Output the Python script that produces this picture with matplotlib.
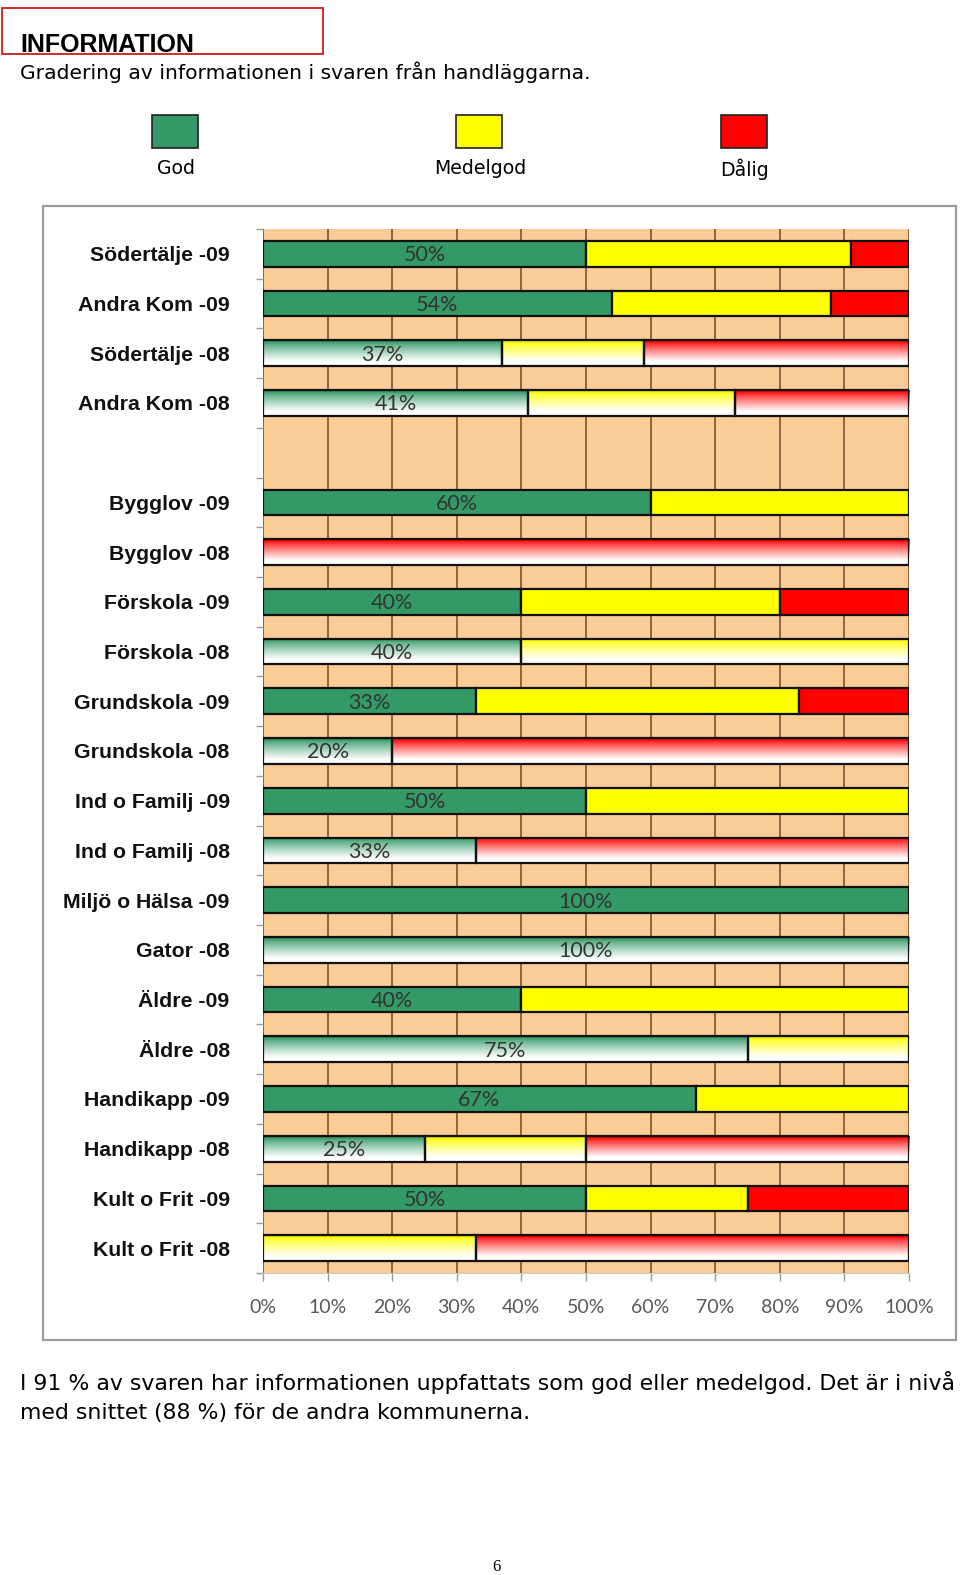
import matplotlib
matplotlib.use("Agg")
import matplotlib.pyplot as plt
from matplotlib.patches import Rectangle
import numpy as np

# data (percent)
categories = ["Södertälje -09", "Andra Kom -09", "Södertälje -08", "Andra Kom -08", "",
              "Bygglov -09", "Bygglov -08", "Förskola -09", "Förskola -08",
              "Grundskola -09", "Grundskola -08", "Ind o Familj -09", "Ind o Familj -08",
              "Miljö o Hälsa -09", "Gator -08", "Äldre -09", "Äldre -08",
              "Handikapp -09", "Handikapp -08", "Kult o Frit -09", "Kult o Frit -08"]
god = [50, 54, 37, 41, 0, 60, 0, 40, 40, 33, 20, 50, 33, 100, 100, 40, 75, 67, 25, 50, 0]
medelgod = [41, 34, 22, 32, 0, 40, 0, 40, 60, 50, 0, 50, 0, 0, 0, 60, 25, 33, 25, 25, 33]
dalig = [9, 12, 41, 27, 0, 0, 100, 20, 0, 17, 80, 0, 67, 0, 0, 0, 0, 0, 50, 25, 67]
series_names = ["God", "Medelgod", "Dålig"]
series_colors = ["#339966", "#FFFF00", "#FF0000"]
xticks = [0, 10, 20, 30, 40, 50, 60, 70, 80, 90, 100]

W, H = 960, 1575
fig = plt.figure(figsize=(W / 100, H / 100), dpi=100)
fig.patch.set_facecolor("white")


def fx(px):
    return px / W


def fy(py):
    return 1 - py / H


# header
fig.patches.append(Rectangle((fx(2), fy(54)), fx(321), 46 / H, transform=fig.transFigure,
                             fill=False, edgecolor="#d22b2b", lw=1.4))
fig.text(fx(20), fy(52), "INFORMATION", fontsize=18, fontweight="bold",
         family="Liberation Sans", va="baseline", ha="left")
fig.text(fx(20), fy(79), "Gradering av informationen i svaren från handläggarna.",
         fontsize=14.6, family="DejaVu Sans", va="baseline", ha="left")

# legend boxes
leg_x = [152, 456, 721]
for name, col, lx in zip(series_names, series_colors, leg_x):
    fig.patches.append(Rectangle((fx(lx), fy(148)), fx(46), 33 / H, transform=fig.transFigure,
                                 facecolor=col, edgecolor="#222222", lw=1.2))
    fig.text(fx(lx + 24), fy(169), name, fontsize=13.6, family="DejaVu Sans",
             ha="center", va="center")

# chart frame
fig.patches.append(Rectangle((fx(43), fy(1340)), fx(913), 1134 / H, transform=fig.transFigure,
                             fill=False, edgecolor="#9c9c9c", lw=1.6))

ax = fig.add_axes([fx(263), fy(1273), fx(909 - 263), (1273 - 229) / H])
ax.set_facecolor("#FBCB98")
n = len(categories)
y = np.arange(n)
bh = 0.52


def gradient(color):
    rgb = np.array(matplotlib.colors.to_rgb(color))
    t = np.linspace(0, 1, 64)
    f = np.clip((t - 0.04) / 0.78, 0, 1) ** 0.85
    top = rgb * 0.82
    base = np.where(t[:, None] < 0.12, top + (rgb - top) * (t[:, None] / 0.12), rgb)
    img = base * (1 - f[:, None]) + f[:, None]
    return img[:, None, :]


for i, cat in enumerate(categories):
    vals = [god[i], medelgod[i], dalig[i]]
    left = 0
    faded = cat.endswith("-08")
    for v, col in zip(vals, series_colors):
        if v <= 0:
            continue
        if faded:
            ax.imshow(gradient(col), extent=(left, left + v, i + bh / 2, i - bh / 2),
                      origin="upper", aspect="auto", interpolation="bilinear", zorder=2)
            ax.barh(i, v, left=left, height=bh, fill=False, edgecolor="#111111",
                    lw=1.6, zorder=3)
        else:
            ax.barh(i, v, left=left, height=bh, color=col, edgecolor="#111111",
                    lw=1.6, zorder=3)
        left += v
    if god[i] > 0:
        ax.text(god[i] / 2, i + 0.03, f"{god[i]}%", ha="center", va="center",
                fontsize=15.5, family="Lato", color="#333333", zorder=4)

ax.set_xlim(0, 100)
ax.set_ylim(n - 0.5, -0.5)
ax.set_xticks(xticks)
ax.set_xticklabels([f"{t}%" for t in xticks], family="Lato", fontsize=14, color="#595959")
ax.set_yticks(y)
ax.set_yticklabels(categories, family="Liberation Sans", fontweight="bold", fontsize=15.3,
                   color="#111111")
ax.set_yticks(np.arange(-0.5, n, 1), minor=True)
ax.tick_params(axis="y", which="major", length=0, pad=24)
ax.tick_params(axis="y", which="minor", length=5, color="#9a9a9a", width=1)
ax.tick_params(axis="x", length=6, color="#9a9a9a", width=1, pad=13)
ax.xaxis.grid(True, color="#7a5530", lw=1.2, zorder=1)
ax.set_axisbelow(True)
for s in ["top", "right", "left"]:
    ax.spines[s].set_visible(False)
ax.spines["bottom"].set_color("#c8c8c8")

# footer text
fig.text(fx(20), fy(1390), "I 91 % av svaren har informationen uppfattats som god eller medelgod. Det är i nivå",
         fontsize=15.85, family="DejaVu Sans", va="baseline", ha="left")
fig.text(fx(20), fy(1419), "med snittet (88 %) för de andra kommunerna.",
         fontsize=15.85, family="DejaVu Sans", va="baseline", ha="left")
fig.text(fx(496), fy(1567), "6", fontsize=12, family="Liberation Serif", ha="center", va="center")

fig.savefig("out.png", dpi=100)
